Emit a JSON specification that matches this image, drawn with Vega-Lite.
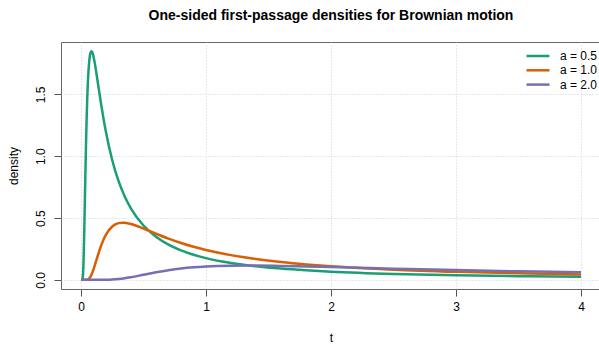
{
  "$schema": "https://vega.github.io/schema/vega-lite/v6.json",
  "autosize": {"type": "none"},
  "width": 540,
  "height": 247,
  "padding": {"left": 61, "top": 42, "right": 0, "bottom": 55},
  "config": {
    "font": "Liberation Sans",
    "view": {"stroke": "#666666", "strokeWidth": 1}
  },
  "title": {
    "text": "One-sided first-passage densities for Brownian motion",
    "fontSize": 14,
    "fontWeight": "bold",
    "anchor": "middle",
    "frame": "group",
    "offset": 19,
    "color": "#000000"
  },
  "data": {
    "values": [
      {"a": "a = 0.5", "t": 0, "density": 0},
      {"a": "a = 0.5", "t": 0.005, "density": 0},
      {"a": "a = 0.5", "t": 0.01, "density": 0.0007},
      {"a": "a = 0.5", "t": 0.015, "density": 0.0261},
      {"a": "a = 0.5", "t": 0.02, "density": 0.1361},
      {"a": "a = 0.5", "t": 0.025, "density": 0.34},
      {"a": "a = 0.5", "t": 0.03, "density": 0.5952},
      {"a": "a = 0.5", "t": 0.035, "density": 0.8565},
      {"a": "a = 0.5", "t": 0.04, "density": 1.0955},
      {"a": "a = 0.5", "t": 0.045, "density": 1.2993},
      {"a": "a = 0.5", "t": 0.05, "density": 1.4645},
      {"a": "a = 0.5", "t": 0.06, "density": 1.6899},
      {"a": "a = 0.5", "t": 0.07, "density": 1.8056},
      {"a": "a = 0.5", "t": 0.075, "density": 1.8343},
      {"a": "a = 0.5", "t": 0.0833, "density": 1.8496},
      {"a": "a = 0.5", "t": 0.09, "density": 1.8421},
      {"a": "a = 0.5", "t": 0.1, "density": 1.8072},
      {"a": "a = 0.5", "t": 0.11, "density": 1.755},
      {"a": "a = 0.5", "t": 0.12, "density": 1.6933},
      {"a": "a = 0.5", "t": 0.14, "density": 1.5593},
      {"a": "a = 0.5", "t": 0.16, "density": 1.4269},
      {"a": "a = 0.5", "t": 0.18, "density": 1.3043},
      {"a": "a = 0.5", "t": 0.2, "density": 1.1937},
      {"a": "a = 0.5", "t": 0.25, "density": 0.9679},
      {"a": "a = 0.5", "t": 0.3, "density": 0.8003},
      {"a": "a = 0.5", "t": 0.35, "density": 0.674},
      {"a": "a = 0.5", "t": 0.4, "density": 0.5769},
      {"a": "a = 0.5", "t": 0.5, "density": 0.4394},
      {"a": "a = 0.5", "t": 0.6, "density": 0.3485},
      {"a": "a = 0.5", "t": 0.7, "density": 0.2849},
      {"a": "a = 0.5", "t": 0.8, "density": 0.2384},
      {"a": "a = 0.5", "t": 0.9, "density": 0.2033},
      {"a": "a = 0.5", "t": 1.0, "density": 0.176},
      {"a": "a = 0.5", "t": 1.2, "density": 0.1367},
      {"a": "a = 0.5", "t": 1.4, "density": 0.1101},
      {"a": "a = 0.5", "t": 1.6, "density": 0.0912},
      {"a": "a = 0.5", "t": 1.8, "density": 0.0771},
      {"a": "a = 0.5", "t": 2.0, "density": 0.0663},
      {"a": "a = 0.5", "t": 2.5, "density": 0.048},
      {"a": "a = 0.5", "t": 3.0, "density": 0.0368},
      {"a": "a = 0.5", "t": 3.5, "density": 0.0294},
      {"a": "a = 0.5", "t": 4.0, "density": 0.0242},
      {"a": "a = 1.0", "t": 0, "density": 0},
      {"a": "a = 1.0", "t": 0.03, "density": 0},
      {"a": "a = 1.0", "t": 0.04, "density": 0.0002},
      {"a": "a = 1.0", "t": 0.05, "density": 0.0016},
      {"a": "a = 1.0", "t": 0.06, "density": 0.0065},
      {"a": "a = 1.0", "t": 0.07, "density": 0.017},
      {"a": "a = 1.0", "t": 0.08, "density": 0.034},
      {"a": "a = 1.0", "t": 0.09, "density": 0.0571},
      {"a": "a = 1.0", "t": 0.1, "density": 0.085},
      {"a": "a = 1.0", "t": 0.12, "density": 0.1488},
      {"a": "a = 1.0", "t": 0.14, "density": 0.2141},
      {"a": "a = 1.0", "t": 0.16, "density": 0.2739},
      {"a": "a = 1.0", "t": 0.18, "density": 0.3248},
      {"a": "a = 1.0", "t": 0.2, "density": 0.3661},
      {"a": "a = 1.0", "t": 0.25, "density": 0.4319},
      {"a": "a = 1.0", "t": 0.3, "density": 0.4586},
      {"a": "a = 1.0", "t": 0.3333, "density": 0.4626},
      {"a": "a = 1.0", "t": 0.35, "density": 0.4617},
      {"a": "a = 1.0", "t": 0.4, "density": 0.4518},
      {"a": "a = 1.0", "t": 0.5, "density": 0.4151},
      {"a": "a = 1.0", "t": 0.6, "density": 0.3731},
      {"a": "a = 1.0", "t": 0.7, "density": 0.3335},
      {"a": "a = 1.0", "t": 0.8, "density": 0.2984},
      {"a": "a = 1.0", "t": 0.9, "density": 0.2681},
      {"a": "a = 1.0", "t": 1.0, "density": 0.242},
      {"a": "a = 1.0", "t": 1.2, "density": 0.2001},
      {"a": "a = 1.0", "t": 1.4, "density": 0.1685},
      {"a": "a = 1.0", "t": 1.6, "density": 0.1442},
      {"a": "a = 1.0", "t": 1.8, "density": 0.1251},
      {"a": "a = 1.0", "t": 2.0, "density": 0.1098},
      {"a": "a = 1.0", "t": 2.5, "density": 0.0826},
      {"a": "a = 1.0", "t": 3.0, "density": 0.065},
      {"a": "a = 1.0", "t": 3.5, "density": 0.0528},
      {"a": "a = 1.0", "t": 4.0, "density": 0.044},
      {"a": "a = 2.0", "t": 0, "density": 0},
      {"a": "a = 2.0", "t": 0.1, "density": 0},
      {"a": "a = 2.0", "t": 0.2, "density": 0.0004},
      {"a": "a = 2.0", "t": 0.25, "density": 0.0021},
      {"a": "a = 2.0", "t": 0.3, "density": 0.0062},
      {"a": "a = 2.0", "t": 0.35, "density": 0.0127},
      {"a": "a = 2.0", "t": 0.4, "density": 0.0213},
      {"a": "a = 2.0", "t": 0.5, "density": 0.0413},
      {"a": "a = 2.0", "t": 0.6, "density": 0.0612},
      {"a": "a = 2.0", "t": 0.7, "density": 0.0782},
      {"a": "a = 2.0", "t": 0.8, "density": 0.0915},
      {"a": "a = 2.0", "t": 0.9, "density": 0.1013},
      {"a": "a = 2.0", "t": 1.0, "density": 0.108},
      {"a": "a = 2.0", "t": 1.2, "density": 0.1146},
      {"a": "a = 2.0", "t": 1.3333, "density": 0.1156},
      {"a": "a = 2.0", "t": 1.4, "density": 0.1154},
      {"a": "a = 2.0", "t": 1.6, "density": 0.113},
      {"a": "a = 2.0", "t": 1.8, "density": 0.1088},
      {"a": "a = 2.0", "t": 2.0, "density": 0.1038},
      {"a": "a = 2.0", "t": 2.5, "density": 0.0907},
      {"a": "a = 2.0", "t": 3.0, "density": 0.0788},
      {"a": "a = 2.0", "t": 3.5, "density": 0.0688},
      {"a": "a = 2.0", "t": 4.0, "density": 0.0605}
    ]
  },
  "mark": {"type": "line", "strokeWidth": 2.5, "interpolate": "monotone"},
  "encoding": {
    "x": {
      "field": "t",
      "type": "quantitative",
      "scale": {"domain": [-0.16, 4.16], "nice": false, "zero": false},
      "axis": {
        "values": [0, 1, 2, 3, 4],
        "domain": false,
        "tickColor": "#555555",
        "tickSize": 7,
        "labelFontSize": 12,
        "labelColor": "#000000",
        "labelPadding": 5,
        "labelAngle": 0,
        "title": "t",
        "titleFontSize": 12,
        "titleFontWeight": "normal",
        "titleColor": "#000000",
        "titleY": 48,
        "titleBaseline": "middle",
        "grid": true,
        "gridColor": "#d0d0d0",
        "gridDash": [1, 2]
      }
    },
    "y": {
      "field": "density",
      "type": "quantitative",
      "scale": {"domain": [-0.074, 1.924], "nice": false, "zero": false},
      "axis": {
        "values": [0, 0.5, 1, 1.5],
        "format": ".1f",
        "domain": false,
        "tickColor": "#555555",
        "tickSize": 7,
        "labelFontSize": 12,
        "labelColor": "#000000",
        "labelAngle": -90,
        "labelAlign": "center",
        "labelBaseline": "bottom",
        "labelPadding": 7,
        "title": "density",
        "titleFontSize": 12,
        "titleFontWeight": "normal",
        "titleColor": "#000000",
        "titleX": -48,
        "titleBaseline": "middle",
        "grid": true,
        "gridColor": "#d0d0d0",
        "gridDash": [1, 2]
      }
    },
    "color": {
      "field": "a",
      "type": "nominal",
      "scale": {"domain": ["a = 0.5", "a = 1.0", "a = 2.0"], "range": ["#1B9E77", "#D95F02", "#7570B3"]},
      "legend": {
        "title": null,
        "orient": "none",
        "legendX": 470,
        "legendY": 7,
        "padding": 0,
        "symbolType": "M-2,0H2",
        "symbolSize": 132,
        "symbolStrokeWidth": 2.5,
        "labelFontSize": 12,
        "labelColor": "#000000",
        "labelOffset": 15,
        "rowPadding": 1.3
      }
    }
  }
}
